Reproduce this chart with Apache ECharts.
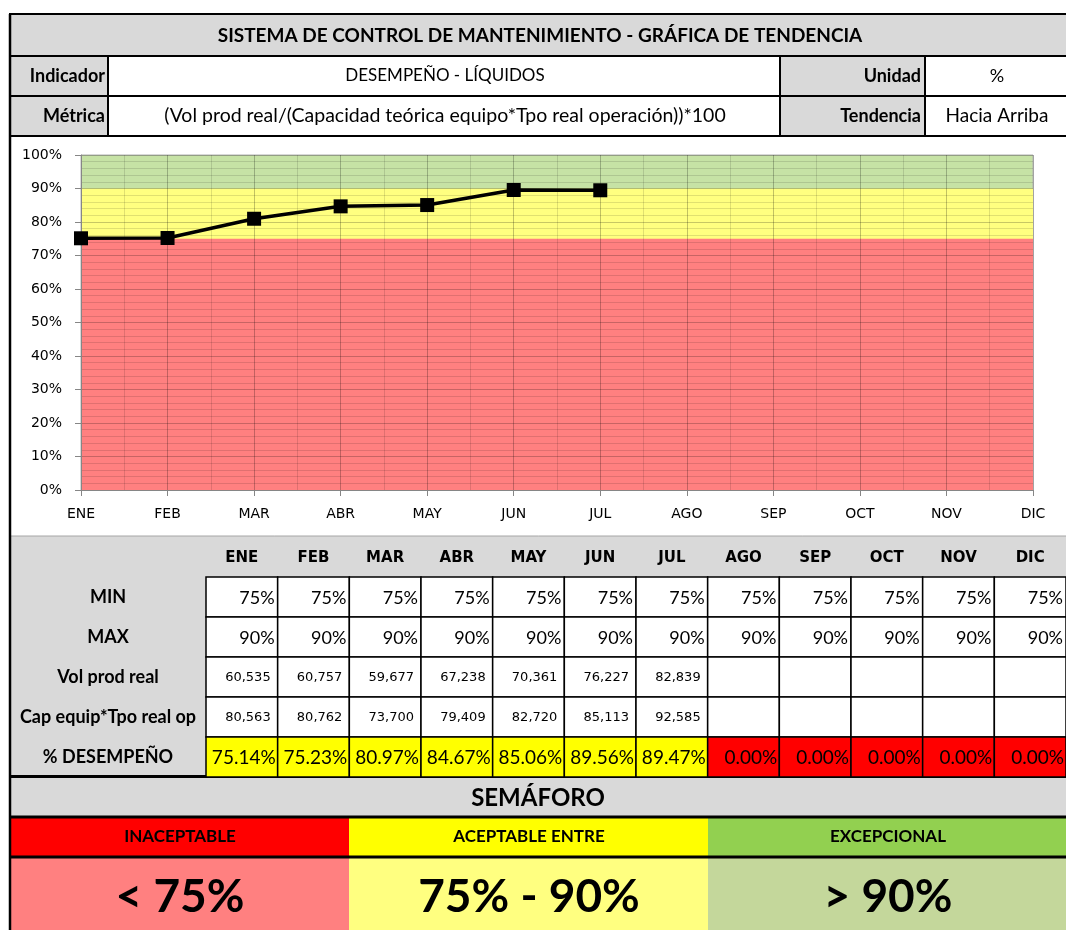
<!DOCTYPE html>
<html lang="es">
<head>
<meta charset="utf-8">
<title>Gráfica de Tendencia</title>
<script src="https://cdn.jsdelivr.net/npm/echarts@6.0.0/dist/echarts.min.js"></script>
<style>
  html, body { margin: 0; padding: 0; background: #fff; }
  #main { width: 1066px; height: 930px; }
</style>
</head>
<body>
<div id="main"></div>
<script type="text/javascript">
// datos de la hoja
var meses = ['ENE', 'FEB', 'MAR', 'ABR', 'MAY', 'JUN', 'JUL', 'AGO', 'SEP', 'OCT', 'NOV', 'DIC'];
var minPct = [75, 75, 75, 75, 75, 75, 75, 75, 75, 75, 75, 75];
var maxPct = [90, 90, 90, 90, 90, 90, 90, 90, 90, 90, 90, 90];
var volProd = [60535, 60757, 59677, 67238, 70361, 76227, 82839, null, null, null, null, null];
var capEquipo = [80563, 80762, 73700, 79409, 82720, 85113, 92585, null, null, null, null, null];
var desempeno = [75.14, 75.23, 80.97, 84.67, 85.06, 89.56, 89.47, null, null, null, null, null];
var filas = ['MIN', 'MAX', 'Vol prod real', 'Cap equip*Tpo real op', '% DESEMPEÑO'];
var semaforoNombres = ['INACEPTABLE', 'ACEPTABLE ENTRE', 'EXCEPCIONAL'];

var titulo = 'SISTEMA DE CONTROL DE MANTENIMIENTO - GRÁFICA DE TENDENCIA';
var indicador = 'DESEMPEÑO - LÍQUIDOS';
var metrica = '(Vol prod real/(Capacidad teórica equipo*Tpo real operación))*100';
var unidad = '%';
var tendencia = 'Hacia Arriba';

var FONT = 'Lato, "Liberation Sans", sans-serif';
var chart = echarts.init(document.getElementById('main'));

function caja(x, y, w, h, fill) {
    return { type: 'rect', z: 0, shape: { x: x, y: y, width: w, height: h },
        style: { fill: fill, stroke: '#000', lineWidth: 2 } };
}
function linea(x1, y1, x2, y2, color, w) {
    return { type: 'line', z: 1, shape: { x1: x1, y1: y1, x2: x2, y2: y2 },
        style: { stroke: color, lineWidth: w } };
}
function texto(t, x, y, align, size, bold) {
    return { type: 'text', z: 2, x: x, y: y,
        style: { text: t, fill: '#000', align: align, textAlign: align,
            verticalAlign: 'middle', textVerticalAlign: 'middle',
            fontFamily: FONT, fontSize: size, fontWeight: bold ? 'bold' : 'normal' } };
}

// celdas de la tabla inferior
var celdas = [];
var NUMF = '"DejaVu Sans", sans-serif';
meses.forEach(function (m, c) {
    celdas.push({ value: [c, 0], text: minPct[c] + '%', fill: '#fff', pad: 3, size: 18, fam: FONT });
    celdas.push({ value: [c, 1], text: maxPct[c] + '%', fill: '#fff', pad: 3, size: 18, fam: FONT });
    celdas.push({ value: [c, 2], text: volProd[c] == null ? '' : volProd[c].toLocaleString('en-US'),
        fill: '#fff', pad: 7, size: 13, fam: NUMF });
    celdas.push({ value: [c, 3], text: capEquipo[c] == null ? '' : capEquipo[c].toLocaleString('en-US'),
        fill: '#fff', pad: 7, size: 13, fam: NUMF });
    var d = desempeno[c] == null ? 0 : desempeno[c];
    var col = d < minPct[c] ? '#ff0000' : (d <= maxPct[c] ? '#ffff00' : '#92d050');
    celdas.push({ value: [c, 4], text: d.toFixed(2) + '%', fill: col, pad: 2, size: 19, fam: FONT });
});

var graficos = [
    // cabecera
    caja(10, 14, 1060, 42, '#d9d9d9'),
    caja(10, 56, 98, 40, '#d9d9d9'), caja(108, 56, 672, 40, '#fff'),
    caja(780, 56, 145, 40, '#d9d9d9'), caja(925, 56, 145, 40, '#fff'),
    caja(10, 96, 98, 40, '#d9d9d9'), caja(108, 96, 672, 40, '#fff'),
    caja(780, 96, 145, 40, '#d9d9d9'), caja(925, 96, 145, 40, '#fff'),
    texto(titulo, 540, 36, 'center', 19, true),
    texto('Indicador', 105, 76, 'right', 18, true),
    texto(indicador, 445, 76, 'center', 17, false),
    texto('Unidad', 921, 76, 'right', 18, true),
    texto(unidad, 997, 76, 'center', 18, false),
    texto('Métrica', 105, 116, 'right', 18, true),
    texto(metrica, 445, 116, 'center', 19.5, false),
    texto('Tendencia', 921, 116, 'right', 18, true),
    texto(tendencia, 997, 116, 'center', 19, false),
    // zona de la tabla
    { type: 'rect', z: 0, shape: { x: 10, y: 536, width: 1060, height: 240 },
        style: { fill: '#d9d9d9', stroke: '#a6a6a6', lineWidth: 1 } },
    // semáforo
    { type: 'rect', z: 0, shape: { x: 10, y: 777, width: 1060, height: 40 }, style: { fill: '#d9d9d9' } },
    texto('SEMÁFORO', 538, 798, 'center', 24, true),
    { type: 'rect', z: 0, shape: { x: 10, y: 817, width: 339, height: 40 }, style: { fill: '#ff0000' } },
    { type: 'rect', z: 0, shape: { x: 349, y: 817, width: 359, height: 40 }, style: { fill: '#ffff00' } },
    { type: 'rect', z: 0, shape: { x: 708, y: 817, width: 362, height: 40 }, style: { fill: '#92d050' } },
    { type: 'rect', z: 0, shape: { x: 10, y: 857, width: 339, height: 73 }, style: { fill: '#ff8080' } },
    { type: 'rect', z: 0, shape: { x: 349, y: 857, width: 359, height: 73 }, style: { fill: '#ffff80' } },
    { type: 'rect', z: 0, shape: { x: 708, y: 857, width: 362, height: 73 }, style: { fill: '#c4d79b' } },
    texto(semaforoNombres[0], 180, 837, 'center', 17, true),
    texto(semaforoNombres[1], 529, 837, 'center', 17, true),
    texto(semaforoNombres[2], 888, 837, 'center', 17, true),
    texto('< ' + minPct[0] + '%', 180, 897, 'center', 46, true),
    texto(minPct[0] + '% - ' + maxPct[0] + '%', 529, 897, 'center', 46, true),
    texto('> ' + maxPct[0] + '%', 888, 897, 'center', 46, true),
    linea(10, 776.5, 1070, 776.5, '#000', 3),
    linea(10, 817, 1070, 817, '#000', 3),
    linea(10, 857, 1070, 857, '#000', 3),
    linea(10, 14, 10, 930, '#000', 2.5)
];

var option = {
    backgroundColor: '#fff',
    animation: false,
    textStyle: { fontFamily: '"DejaVu Sans", sans-serif' },
    graphic: { elements: graficos },
    grid: [
        { left: 81, right: 33, top: 155, bottom: 440, show: true,
            backgroundColor: '#c6e2a5', borderColor: '#b0b0b0', borderWidth: 1 },
        { left: 206, top: 577, width: 864, height: 200 }
    ],
    xAxis: [
        { type: 'value', gridIndex: 0, min: 0, max: 11, interval: 1, z: 3,
            axisLine: { show: true, lineStyle: { color: '#868686' } },
            axisTick: { show: true, length: 6, lineStyle: { color: '#868686' } },
            axisLabel: { color: '#000', fontSize: 14, margin: 17,
                formatter: function (v) { return meses[v]; } },
            splitLine: { show: true, lineStyle: { color: 'rgba(0,0,0,0.24)', width: 1 } },
            minorTick: { show: false, splitNumber: 2 },
            minorSplitLine: { show: true, lineStyle: { color: 'rgba(0,0,0,0.12)', width: 1 } } },
        { type: 'category', gridIndex: 1, data: meses, position: 'top', z: 5,
            axisLine: { show: false }, axisTick: { show: false },
            axisLabel: { color: '#000', fontWeight: 'bold', fontSize: 15, margin: 11 } }
    ],
    yAxis: [
        { type: 'value', gridIndex: 0, min: 0, max: 100, interval: 10, z: 3,
            axisLine: { show: true, lineStyle: { color: '#868686' } },
            axisTick: { show: true, length: 6, lineStyle: { color: '#868686' } },
            axisLabel: { color: '#000', fontSize: 14, margin: 19,
                formatter: function (v) { return v + '%'; } },
            splitLine: { show: true, lineStyle: { color: 'rgba(0,0,0,0.22)', width: 1 } },
            minorTick: { show: false, splitNumber: 5 },
            minorSplitLine: { show: true, lineStyle: { color: 'rgba(0,0,0,0.12)', width: 1 } } },
        { type: 'category', gridIndex: 1, data: filas, inverse: true, z: 5,
            axisLine: { show: false }, axisTick: { show: false },
            axisLabel: { color: '#000', fontWeight: 'bold', fontSize: 18, fontFamily: FONT,
                align: 'center', margin: 98 } }
    ],
    series: [
        { name: 'MAX', type: 'line', xAxisIndex: 0, yAxisIndex: 0, z: 1, silent: true,
            symbol: 'none', lineStyle: { width: 0 }, areaStyle: { color: '#ffff80', opacity: 1 },
            data: maxPct.map(function (v, i) { return [i, v]; }) },
        { name: 'MIN', type: 'line', xAxisIndex: 0, yAxisIndex: 0, z: 1, silent: true,
            symbol: 'none', lineStyle: { width: 0 }, areaStyle: { color: '#ff8080', opacity: 1 },
            data: minPct.map(function (v, i) { return [i, v]; }) },
        { name: '% DESEMPEÑO', type: 'line', xAxisIndex: 0, yAxisIndex: 0, z: 10,
            symbol: 'rect', symbolSize: 14, showAllSymbol: true,
            lineStyle: { color: '#000', width: 3.5 }, itemStyle: { color: '#000' },
            data: desempeno.map(function (v, i) { return [i, v == null ? '-' : v]; }) },
        { name: 'tabla', type: 'custom', xAxisIndex: 1, yAxisIndex: 1, z: 4, silent: true,
            data: celdas,
            renderItem: function (params, api) {
                var cel = celdas[params.dataIndex];
                var p = api.coord([api.value(0), api.value(1)]);
                var s = api.size([1, 1]);
                return { type: 'group', children: [
                    { type: 'rect', shape: { x: p[0] - s[0] / 2, y: p[1] - s[1] / 2, width: s[0], height: s[1] },
                        style: { fill: cel.fill, stroke: '#000', lineWidth: 1.5 } },
                    { type: 'text', x: p[0] + s[0] / 2 - cel.pad, y: p[1] + 1,
                        style: { text: cel.text, fill: '#000', align: 'right', textAlign: 'right',
                            verticalAlign: 'middle', textVerticalAlign: 'middle',
                            fontFamily: cel.fam, fontSize: cel.size } }
                ] };
            } }
    ]
};
chart.setOption(option);
</script>
</body>
</html>
